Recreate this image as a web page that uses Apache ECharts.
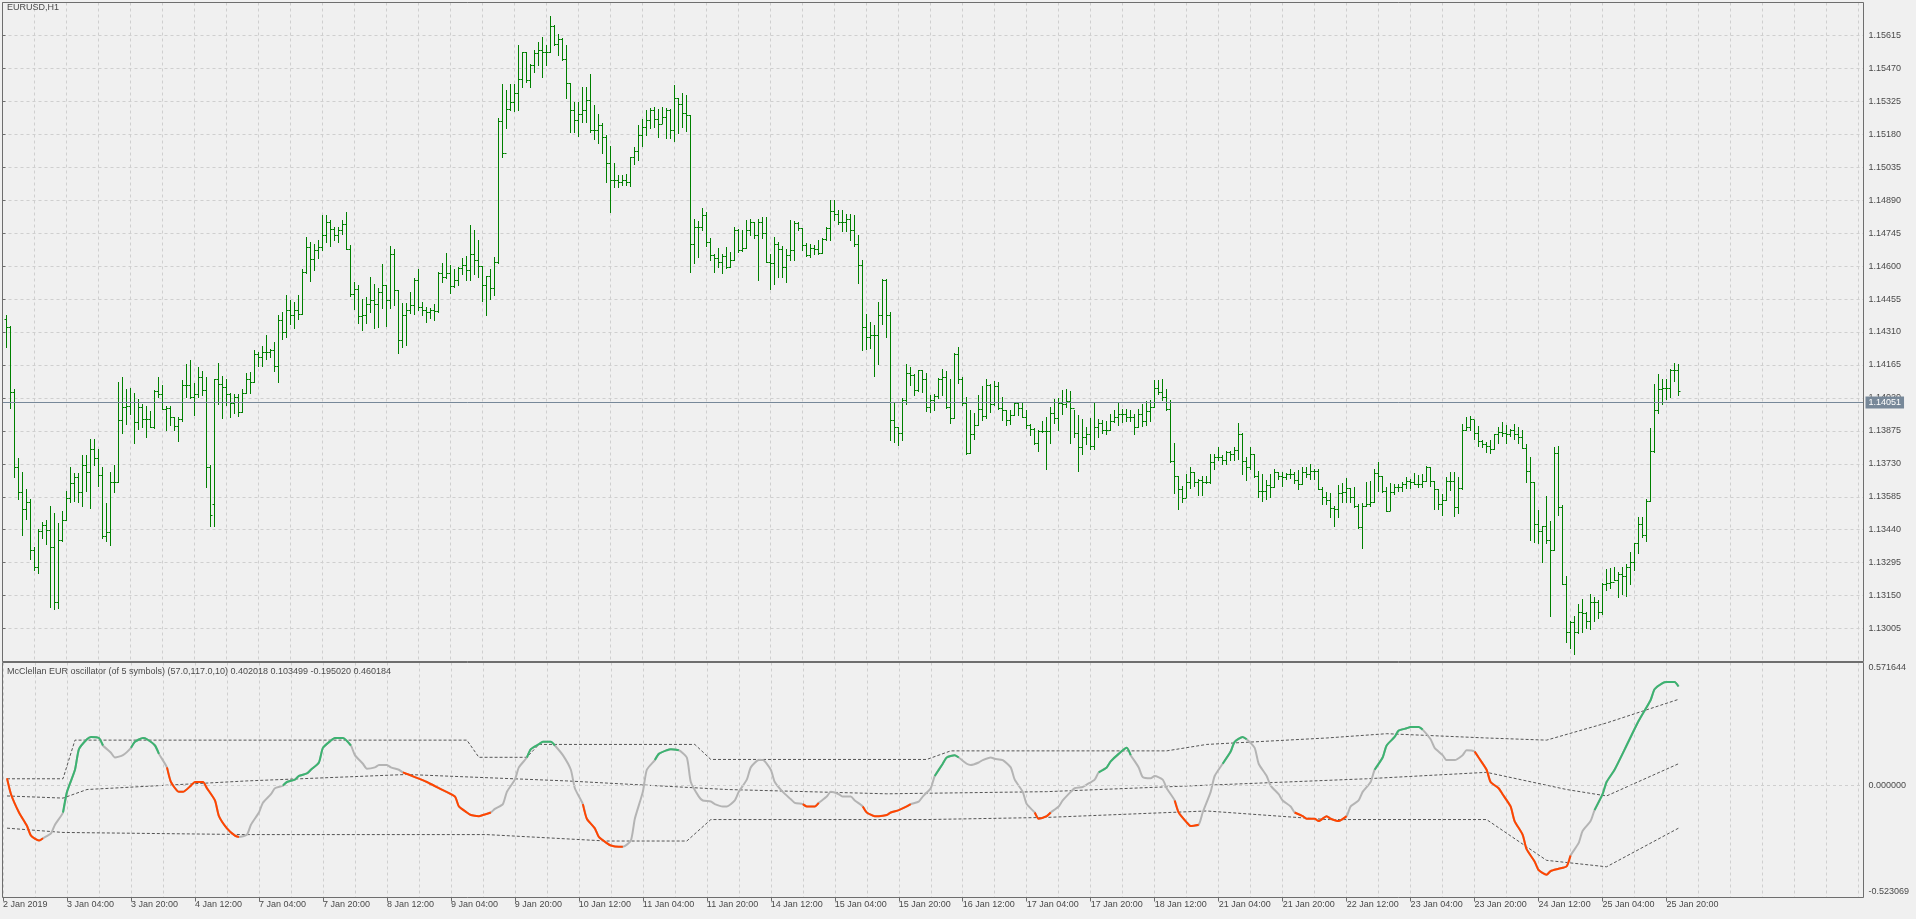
<!DOCTYPE html>
<html><head><meta charset="utf-8">
<script src="https://cdn.jsdelivr.net/npm/echarts@6/dist/echarts.min.js"></script>
<style>html,body{margin:0;padding:0;background:#f0f0f0;overflow:hidden}#c{width:1916px;height:919px}</style>
</head><body><div id="c"></div>
<script>
const SYMBOL_TITLE = 'EURUSD,H1';
const OSC_TITLE = 'McClellan EUR oscillator (of 5 symbols) (57.0,117.0,10) 0.402018 0.103499 -0.195020 0.460184';
const timeLabels = ['2 Jan 2019','3 Jan 04:00','3 Jan 20:00','4 Jan 12:00','7 Jan 04:00','7 Jan 20:00','8 Jan 12:00','9 Jan 04:00','9 Jan 20:00','10 Jan 12:00','11 Jan 04:00','11 Jan 20:00','14 Jan 12:00','15 Jan 04:00','15 Jan 20:00','16 Jan 12:00','17 Jan 04:00','17 Jan 20:00','18 Jan 12:00','21 Jan 04:00','21 Jan 20:00','22 Jan 12:00','23 Jan 04:00','23 Jan 20:00','24 Jan 12:00','25 Jan 04:00','25 Jan 20:00'];
const lastPrice = 1.14051;
const priceMin = 1.12860, priceMax = 1.15760, priceStep = 0.00145;
const oscMin = -0.523069, oscMax = 0.571644;

const opens = [
1.14368,1.14334,1.14045,1.13715,1.13604,1.13533,1.13564,1.13350,1.13278,1.13436,
1.13459,1.13439,1.13363,1.13124,1.13395,1.13483,1.13580,1.13645,1.13671,1.13605,
1.13723,1.13693,1.13796,1.13756,1.13681,1.13414,1.13432,1.13649,1.13652,1.13924,
1.13982,1.13983,1.14004,1.13912,1.13979,1.13928,1.13928,1.13894,1.14050,1.14038,
1.13972,1.13976,1.13938,1.13897,1.13925,1.14075,1.14077,1.14023,1.14038,1.14114,
1.14056,1.13715,1.13554,1.14101,1.14082,1.14067,1.14038,1.13998,1.14026,1.13956,
1.14041,1.14101,1.14089,1.14211,1.14199,1.14221,1.14221,1.14232,1.14160,1.14361,
1.14311,1.14408,1.14386,1.14405,1.14389,1.14573,1.14683,1.14631,1.14669,1.14686,
1.14738,1.14793,1.14764,1.14738,1.14757,1.14786,1.14676,1.14478,1.14500,1.14380,
1.14386,1.14435,1.14449,1.14434,1.14485,1.14518,1.14449,1.14654,1.14493,1.14273,
1.14383,1.14405,1.14430,1.14540,1.14422,1.14408,1.14400,1.14405,1.14402,1.14569,
1.14554,1.14570,1.14512,1.14540,1.14591,1.14603,1.14584,1.14654,1.14625,1.14600,
1.14518,1.14557,1.14503,1.14617,1.15238,1.15097,1.15290,1.15324,1.15361,1.15424,
1.15541,1.15417,1.15487,1.15537,1.15552,1.15541,1.15541,1.15655,1.15578,1.15600,
1.15512,1.15406,1.15285,1.15241,1.15270,1.15288,1.15332,1.15200,1.15200,1.15223,
1.15170,1.15054,1.14977,1.14977,1.14972,1.14977,1.14972,1.15079,1.15106,1.15175,
1.15214,1.15245,1.15289,1.15248,1.15226,1.15255,1.15289,1.15197,1.15340,1.15314,
1.15274,1.15263,1.14698,1.14771,1.14774,1.14823,1.14705,1.14647,1.14635,1.14617,
1.14644,1.14595,1.14625,1.14757,1.14669,1.14680,1.14757,1.14793,1.14738,1.14793,
1.14746,1.14617,1.14613,1.14698,1.14676,1.14595,1.14651,1.14669,1.14789,1.14767,
1.14695,1.14647,1.14680,1.14676,1.14658,1.14720,1.14767,1.14842,1.14830,1.14796,
1.14796,1.14808,1.14757,1.14698,1.14606,1.14334,1.14290,1.14295,1.14295,1.14383,
1.14541,1.14386,1.13923,1.13894,1.13866,1.14011,1.14130,1.14122,1.14055,1.14141,
1.14104,1.13982,1.14009,1.14028,1.14101,1.14114,1.13979,1.13932,1.14214,1.14101,
1.13998,1.13777,1.13862,1.13902,1.13969,1.13940,1.14075,1.13994,1.14072,1.13975,
1.13965,1.13923,1.13946,1.13997,1.13976,1.13938,1.13902,1.13884,1.13822,1.13874,
1.13874,1.13874,1.13954,1.13932,1.13997,1.13994,1.14006,1.13976,1.13866,1.13803,
1.13847,1.13862,1.13808,1.13891,1.13910,1.13879,1.13877,1.13920,1.13938,1.13950,
1.13947,1.13938,1.13938,1.13891,1.13950,1.13918,1.13962,1.13979,1.14064,1.14045,
1.14026,1.13972,1.13742,1.13676,1.13620,1.13579,1.13652,1.13693,1.13652,1.13659,
1.13649,1.13649,1.13740,1.13762,1.13762,1.13747,1.13781,1.13774,1.13791,1.13862,
1.13742,1.13715,1.13771,1.13678,1.13612,1.13612,1.13636,1.13630,1.13693,1.13678,
1.13674,1.13686,1.13686,1.13659,1.13642,1.13696,1.13683,1.13700,1.13700,1.13620,
1.13586,1.13571,1.13535,1.13532,1.13602,1.13605,1.13624,1.13583,1.13544,1.13451,
1.13546,1.13554,1.13564,1.13689,1.13676,1.13612,1.13524,1.13605,1.13630,1.13630,
1.13642,1.13654,1.13649,1.13642,1.13642,1.13656,1.13715,1.13654,1.13620,1.13554,
1.13571,1.13654,1.13654,1.13542,1.13624,1.13880,1.13894,1.13925,1.13866,1.13830,
1.13815,1.13808,1.13796,1.13859,1.13872,1.13865,1.13862,1.13877,1.13862,1.13847,
1.13800,1.13700,1.13648,1.13466,1.13434,1.13455,1.13395,1.13351,1.13777,1.13542,
1.13202,1.12989,1.13036,1.12989,1.13077,1.13073,1.13040,1.13121,1.13121,1.13077,
1.13202,1.13205,1.13209,1.13219,1.13243,1.13238,1.13275,1.13300,1.13381,1.13463,
1.13417,1.13568,1.13786,1.13967,1.14060,1.14064,1.14064,1.14141,1.14143];

const highs = [
1.14387,1.14337,1.14058,1.13755,1.13696,1.13621,1.13573,1.13363,1.13444,1.13476,
1.13481,1.13544,1.13513,1.13469,1.13524,1.13612,1.13715,1.13689,1.13690,1.13767,
1.13767,1.13838,1.13841,1.13796,1.13718,1.13557,1.13692,1.13723,1.14089,1.14111,
1.14057,1.14064,1.14041,1.14013,1.13994,1.13985,1.13962,1.14053,1.14114,1.14075,
1.13985,1.13985,1.13938,1.13938,1.14097,1.14170,1.14188,1.14085,1.14155,1.14139,
1.14111,1.13725,1.14104,1.14174,1.14116,1.14104,1.14041,1.14038,1.14038,1.14058,
1.14130,1.14136,1.14229,1.14221,1.14248,1.14298,1.14236,1.14268,1.14386,1.14400,
1.14475,1.14449,1.14443,1.14471,1.14588,1.14726,1.14708,1.14698,1.14713,1.14823,
1.14823,1.14801,1.14771,1.14774,1.14801,1.14840,1.14691,1.14532,1.14515,1.14455,
1.14463,1.14554,1.14522,1.14503,1.14610,1.14519,1.14689,1.14676,1.14496,1.14438,
1.14437,1.14484,1.14548,1.14588,1.14444,1.14422,1.14416,1.14434,1.14573,1.14614,
1.14658,1.14603,1.14588,1.14595,1.14636,1.14645,1.14782,1.14757,1.14713,1.14600,
1.14557,1.14587,1.14639,1.15252,1.15402,1.15373,1.15402,1.15402,1.15575,1.15541,
1.15544,1.15490,1.15549,1.15588,1.15610,1.15574,1.15700,1.15662,1.15622,1.15603,
1.15575,1.15406,1.15324,1.15321,1.15390,1.15390,1.15446,1.15307,1.15270,1.15229,
1.15179,1.15128,1.15054,1.14999,1.15003,1.15005,1.15079,1.15126,1.15223,1.15248,
1.15285,1.15296,1.15302,1.15292,1.15302,1.15295,1.15292,1.15399,1.15339,1.15361,
1.15355,1.15267,1.14808,1.14798,1.14856,1.14837,1.14724,1.14654,1.14680,1.14654,
1.14682,1.14661,1.14771,1.14764,1.14757,1.14801,1.14807,1.14793,1.14808,1.14815,
1.14815,1.14654,1.14730,1.14708,1.14688,1.14676,1.14804,1.14798,1.14796,1.14767,
1.14702,1.14698,1.14695,1.14713,1.14724,1.14771,1.14892,1.14892,1.14849,1.14848,
1.14830,1.14830,1.14826,1.14739,1.14629,1.14390,1.14356,1.14343,1.14440,1.14544,
1.14544,1.14400,1.14004,1.13894,1.14020,1.14171,1.14158,1.14126,1.14143,1.14141,
1.14129,1.14031,1.14038,1.14108,1.14148,1.14138,1.14105,1.14217,1.14246,1.14114,
1.14023,1.13965,1.13954,1.14031,1.14072,1.14105,1.14079,1.14094,1.14092,1.14026,
1.13965,1.13965,1.14001,1.13997,1.13997,1.13965,1.13906,1.13887,1.13877,1.13918,
1.13938,1.13982,1.14016,1.14020,1.14056,1.14057,1.14050,1.13965,1.13946,1.13925,
1.13891,1.13932,1.14001,1.13928,1.13923,1.13920,1.13947,1.13965,1.13997,1.13969,
1.13969,1.13967,1.13950,1.13972,1.13991,1.14006,1.14009,1.14097,1.14097,1.14101,
1.14060,1.14009,1.13822,1.13678,1.13634,1.13683,1.13718,1.13696,1.13664,1.13678,
1.13678,1.13771,1.13771,1.13803,1.13769,1.13786,1.13786,1.13803,1.13910,1.13865,
1.13762,1.13803,1.13774,1.13698,1.13686,1.13657,1.13683,1.13708,1.13696,1.13693,
1.13689,1.13708,1.13693,1.13703,1.13718,1.13715,1.13727,1.13708,1.13708,1.13627,
1.13608,1.13601,1.13546,1.13637,1.13645,1.13668,1.13624,1.13627,1.13554,1.13557,
1.13649,1.13654,1.13708,1.13740,1.13676,1.13630,1.13645,1.13642,1.13642,1.13649,
1.13674,1.13661,1.13689,1.13681,1.13686,1.13720,1.13715,1.13654,1.13620,1.13595,
1.13671,1.13693,1.13696,1.13674,1.13903,1.13935,1.13941,1.13923,1.13898,1.13833,
1.13825,1.13835,1.13862,1.13894,1.13912,1.13901,1.13881,1.13903,1.13891,1.13877,
1.13815,1.13762,1.13648,1.13527,1.13458,1.13590,1.13480,1.13803,1.13808,1.13549,
1.13238,1.13037,1.13062,1.13114,1.13136,1.13077,1.13155,1.13146,1.13131,1.13206,
1.13268,1.13272,1.13278,1.13256,1.13278,1.13287,1.13344,1.13381,1.13495,1.13498,
1.13576,1.13888,1.14079,1.14126,1.14104,1.14101,1.14148,1.14174,1.14170];

const lows = [
1.14243,1.13976,1.13671,1.13576,1.13417,1.13488,1.13310,1.13263,1.13249,1.13403,
1.13378,1.13099,1.13090,1.13095,1.13390,1.13483,1.13561,1.13568,1.13564,1.13544,
1.13612,1.13536,1.13723,1.13632,1.13403,1.13390,1.13373,1.13608,1.13652,1.13865,
1.13906,1.13950,1.13821,1.13884,1.13891,1.13847,1.13891,1.13887,1.14023,1.13972,
1.13877,1.13899,1.13880,1.13830,1.13920,1.14023,1.14020,1.13943,1.14023,1.14034,
1.13630,1.13456,1.13456,1.13994,1.13931,1.13987,1.13935,1.13954,1.13940,1.13956,
1.14041,1.14041,1.14089,1.14160,1.14160,1.14192,1.14199,1.14138,1.14092,1.14278,
1.14287,1.14346,1.14327,1.14368,1.14390,1.14570,1.14534,1.14581,1.14636,1.14669,
1.14705,1.14688,1.14716,1.14705,1.14742,1.14676,1.14468,1.14412,1.14349,1.14320,
1.14349,1.14397,1.14327,1.14331,1.14415,1.14336,1.14415,1.14427,1.14218,1.14243,
1.14254,1.14393,1.14390,1.14405,1.14386,1.14353,1.14371,1.14361,1.14397,1.14532,
1.14547,1.14481,1.14510,1.14515,1.14566,1.14540,1.14537,1.14566,1.14551,1.14446,
1.14384,1.14454,1.14471,1.14614,1.15079,1.15208,1.15285,1.15282,1.15289,1.15390,
1.15412,1.15387,1.15456,1.15483,1.15431,1.15486,1.15541,1.15571,1.15527,1.15505,
1.15339,1.15189,1.15189,1.15172,1.15233,1.15236,1.15189,1.15160,1.15141,1.15097,
1.14969,1.14837,1.14950,1.14947,1.14958,1.14959,1.14952,1.15050,1.15068,1.15128,
1.15179,1.15207,1.15214,1.15167,1.15229,1.15163,1.15163,1.15150,1.15186,1.15214,
1.15194,1.14573,1.14613,1.14639,1.14760,1.14688,1.14628,1.14576,1.14595,1.14569,
1.14592,1.14595,1.14625,1.14661,1.14666,1.14680,1.14739,1.14724,1.14540,1.14724,
1.14617,1.14500,1.14522,1.14551,1.14554,1.14529,1.14628,1.14628,1.14757,1.14672,
1.14644,1.14639,1.14654,1.14654,1.14657,1.14713,1.14717,1.14805,1.14786,1.14754,
1.14754,1.14716,1.14688,1.14525,1.14232,1.14236,1.14239,1.14116,1.14170,1.14346,
1.14287,1.13835,1.13825,1.13813,1.13835,1.13994,1.14078,1.14034,1.14050,1.14045,
1.13962,1.13957,1.13965,1.14020,1.14031,1.13976,1.13910,1.13932,1.14085,1.13990,
1.13774,1.13777,1.13837,1.13900,1.13923,1.13932,1.13957,1.13990,1.13969,1.13921,
1.13899,1.13903,1.13946,1.13943,1.13935,1.13888,1.13855,1.13818,1.13786,1.13869,
1.13708,1.13821,1.13909,1.13880,1.13950,1.13982,1.13821,1.13847,1.13698,1.13771,
1.13818,1.13796,1.13796,1.13847,1.13866,1.13859,1.13877,1.13913,1.13899,1.13913,
1.13918,1.13920,1.13862,1.13891,1.13896,1.13899,1.13920,1.13979,1.14035,1.14011,
1.13965,1.13737,1.13601,1.13529,1.13561,1.13583,1.13624,1.13634,1.13591,1.13591,
1.13645,1.13646,1.13705,1.13745,1.13730,1.13730,1.13745,1.13748,1.13752,1.13686,
1.13659,1.13708,1.13671,1.13586,1.13565,1.13577,1.13586,1.13630,1.13664,1.13634,
1.13664,1.13668,1.13646,1.13617,1.13640,1.13674,1.13661,1.13661,1.13620,1.13554,
1.13551,1.13495,1.13456,1.13495,1.13561,1.13561,1.13561,1.13542,1.13448,1.13360,
1.13546,1.13546,1.13560,1.13610,1.13605,1.13522,1.13527,1.13595,1.13610,1.13610,
1.13624,1.13624,1.13639,1.13630,1.13630,1.13654,1.13634,1.13529,1.13529,1.13505,
1.13571,1.13615,1.13502,1.13513,1.13620,1.13877,1.13877,1.13840,1.13810,1.13803,
1.13781,1.13777,1.13795,1.13822,1.13852,1.13822,1.13852,1.13837,1.13822,1.13800,
1.13649,1.13395,1.13385,1.13381,1.13297,1.13381,1.13059,1.13351,1.13505,1.13202,
1.12945,1.12919,1.12891,1.12985,1.12989,1.13007,1.13004,1.13040,1.13051,1.13070,
1.13175,1.13184,1.13217,1.13143,1.13158,1.13150,1.13202,1.13263,1.13337,1.13407,
1.13390,1.13565,1.13781,1.13953,1.13991,1.14014,1.14026,1.14096,1.14031];

const closes = [
1.14334,1.14045,1.13715,1.13604,1.13533,1.13564,1.13350,1.13278,1.13436,1.13459,
1.13439,1.13363,1.13124,1.13395,1.13483,1.13580,1.13645,1.13671,1.13605,1.13723,
1.13693,1.13796,1.13756,1.13681,1.13414,1.13432,1.13649,1.13652,1.13924,1.13982,
1.13983,1.14004,1.13912,1.13979,1.13928,1.13928,1.13894,1.14050,1.14038,1.13972,
1.13976,1.13938,1.13897,1.13925,1.14075,1.14077,1.14023,1.14038,1.14114,1.14056,
1.13715,1.13503,1.14101,1.14082,1.14067,1.14038,1.13998,1.14026,1.13956,1.14041,
1.14101,1.14089,1.14211,1.14199,1.14221,1.14221,1.14232,1.14160,1.14361,1.14311,
1.14408,1.14386,1.14405,1.14389,1.14573,1.14683,1.14631,1.14669,1.14686,1.14738,
1.14793,1.14764,1.14738,1.14757,1.14786,1.14676,1.14478,1.14500,1.14380,1.14386,
1.14435,1.14449,1.14434,1.14485,1.14518,1.14449,1.14654,1.14493,1.14273,1.14383,
1.14405,1.14430,1.14540,1.14422,1.14408,1.14400,1.14405,1.14402,1.14569,1.14554,
1.14570,1.14512,1.14540,1.14591,1.14603,1.14584,1.14654,1.14625,1.14600,1.14518,
1.14557,1.14503,1.14617,1.15238,1.15097,1.15290,1.15324,1.15361,1.15424,1.15541,
1.15417,1.15487,1.15537,1.15552,1.15541,1.15541,1.15655,1.15578,1.15600,1.15512,
1.15406,1.15285,1.15241,1.15270,1.15288,1.15332,1.15200,1.15200,1.15223,1.15170,
1.15054,1.14977,1.14977,1.14972,1.14977,1.14972,1.15079,1.15106,1.15175,1.15214,
1.15245,1.15289,1.15248,1.15226,1.15255,1.15289,1.15197,1.15340,1.15314,1.15274,
1.15263,1.14698,1.14771,1.14774,1.14823,1.14705,1.14647,1.14635,1.14617,1.14644,
1.14595,1.14625,1.14757,1.14669,1.14680,1.14757,1.14793,1.14738,1.14793,1.14746,
1.14617,1.14613,1.14698,1.14676,1.14595,1.14651,1.14669,1.14789,1.14767,1.14695,
1.14647,1.14680,1.14676,1.14658,1.14720,1.14767,1.14842,1.14830,1.14796,1.14796,
1.14808,1.14757,1.14698,1.14606,1.14334,1.14290,1.14295,1.14295,1.14383,1.14541,
1.14386,1.13923,1.13894,1.13866,1.14011,1.14130,1.14122,1.14055,1.14141,1.14104,
1.13982,1.14009,1.14028,1.14101,1.14114,1.13979,1.13932,1.14214,1.14101,1.13998,
1.13777,1.13862,1.13902,1.13969,1.13940,1.14075,1.13994,1.14072,1.13975,1.13965,
1.13923,1.13946,1.13997,1.13976,1.13938,1.13902,1.13884,1.13822,1.13874,1.13874,
1.13874,1.13954,1.13932,1.13997,1.13994,1.14006,1.13976,1.13866,1.13803,1.13847,
1.13862,1.13808,1.13891,1.13910,1.13879,1.13877,1.13920,1.13938,1.13950,1.13947,
1.13938,1.13938,1.13891,1.13950,1.13918,1.13962,1.13979,1.14064,1.14045,1.14026,
1.13972,1.13742,1.13676,1.13620,1.13579,1.13652,1.13693,1.13652,1.13659,1.13649,
1.13649,1.13740,1.13762,1.13762,1.13747,1.13781,1.13774,1.13791,1.13862,1.13742,
1.13715,1.13771,1.13678,1.13612,1.13612,1.13636,1.13630,1.13693,1.13678,1.13674,
1.13686,1.13686,1.13659,1.13642,1.13696,1.13683,1.13700,1.13700,1.13620,1.13586,
1.13571,1.13535,1.13532,1.13602,1.13605,1.13624,1.13583,1.13544,1.13451,1.13546,
1.13554,1.13564,1.13689,1.13676,1.13612,1.13524,1.13605,1.13630,1.13630,1.13642,
1.13654,1.13649,1.13642,1.13642,1.13656,1.13715,1.13654,1.13620,1.13554,1.13571,
1.13654,1.13654,1.13542,1.13624,1.13880,1.13894,1.13925,1.13866,1.13830,1.13815,
1.13808,1.13796,1.13859,1.13872,1.13865,1.13862,1.13877,1.13862,1.13847,1.13800,
1.13700,1.13648,1.13466,1.13434,1.13455,1.13395,1.13351,1.13777,1.13542,1.13202,
1.12989,1.13036,1.12989,1.13077,1.13073,1.13040,1.13121,1.13121,1.13077,1.13202,
1.13205,1.13209,1.13219,1.13243,1.13238,1.13275,1.13300,1.13381,1.13463,1.13417,
1.13568,1.13786,1.13967,1.14060,1.14064,1.14064,1.14141,1.14143,1.14051];

// oscillator main line: [bar index, value]
const oscMain = [[0,0.032],[1,-0.042],[3,-0.127],[5,-0.190],[6,-0.235],[8,-0.258],[9,-0.247],[11,-0.224],[12,-0.184],[14,-0.127],[15,-0.031],[17,0.072],[18,0.168],[20,0.214],[21,0.225],[23,0.220],[24,0.185],[26,0.151],[27,0.129],[29,0.140],[31,0.174],[32,0.202],[34,0.220],[35,0.214],[37,0.185],[38,0.146],[40,0.083],[41,0.015],[43,-0.031],[44,-0.031],[46,-0.002],[47,0.015],[49,0.015],[50,-0.014],[52,-0.071],[53,-0.144],[55,-0.201],[57,-0.235],[58,-0.241],[60,-0.230],[61,-0.184],[63,-0.127],[64,-0.082],[66,-0.042],[67,-0.014],[69,-0.002],[70,0.015],[72,0.026],[73,0.043],[75,0.055],[76,0.072],[78,0.106],[79,0.174],[81,0.208],[82,0.220],[84,0.220],[86,0.185],[87,0.140],[89,0.100],[90,0.077],[92,0.083],[93,0.094],[95,0.094],[96,0.083],[98,0.072],[99,0.060],[102,0.038],[105,0.015],[108,-0.014],[112,-0.053],[113,-0.099],[115,-0.127],[116,-0.139],[118,-0.144],[119,-0.139],[121,-0.127],[122,-0.110],[124,-0.088],[125,-0.031],[127,0.026],[128,0.083],[130,0.129],[131,0.168],[133,0.191],[134,0.202],[136,0.202],[137,0.185],[139,0.140],[141,0.072],[142,-0.014],[144,-0.088],[145,-0.156],[147,-0.201],[148,-0.241],[150,-0.270],[151,-0.281],[153,-0.287],[154,-0.287],[156,-0.258],[157,-0.156],[159,-0.031],[160,0.072],[162,0.117],[163,0.146],[165,0.163],[166,0.168],[168,0.163],[170,0.129],[171,0.015],[173,-0.053],[174,-0.071],[176,-0.076],[177,-0.088],[179,-0.099],[180,-0.099],[182,-0.071],[183,-0.031],[185,0.026],[186,0.083],[188,0.117],[189,0.117],[191,0.072],[192,0.015],[194,-0.031],[196,-0.065],[197,-0.082],[199,-0.088],[200,-0.099],[202,-0.099],[203,-0.082],[205,-0.053],[206,-0.031],[208,-0.042],[209,-0.053],[211,-0.053],[212,-0.071],[214,-0.099],[215,-0.127],[217,-0.144],[218,-0.144],[220,-0.139],[221,-0.127],[223,-0.116],[225,-0.099],[226,-0.088],[228,-0.076],[229,-0.053],[231,-0.014],[232,0.043],[234,0.100],[235,0.129],[237,0.140],[238,0.129],[240,0.100],[241,0.094],[243,0.106],[244,0.117],[246,0.129],[247,0.123],[249,0.117],[251,0.083],[252,0.026],[254,-0.031],[255,-0.088],[257,-0.127],[258,-0.156],[260,-0.144],[261,-0.127],[263,-0.099],[264,-0.071],[266,-0.031],[267,-0.014],[269,-0.008],[270,0.003],[272,0.026],[273,0.060],[275,0.083],[276,0.111],[278,0.146],[280,0.174],[281,0.140],[283,0.083],[284,0.038],[286,0.032],[287,0.043],[289,0.026],[290,-0.014],[292,-0.071],[293,-0.127],[295,-0.173],[296,-0.190],[298,-0.184],[299,-0.127],[301,-0.031],[302,0.043],[304,0.100],[306,0.157],[307,0.202],[309,0.225],[310,0.214],[312,0.174],[313,0.100],[315,0.043],[316,-0.002],[318,-0.042],[319,-0.071],[321,-0.099],[322,-0.127],[324,-0.144],[325,-0.156],[327,-0.156],[328,-0.167],[330,-0.144],[331,-0.156],[333,-0.167],[335,-0.144],[336,-0.099],[338,-0.071],[339,-0.031],[341,0.015],[342,0.072],[344,0.129],[345,0.185],[347,0.225],[348,0.254],[350,0.265],[351,0.271],[353,0.271],[354,0.259],[356,0.214],[357,0.174],[359,0.140],[360,0.117],[362,0.117],[364,0.140],[365,0.163],[367,0.157],[368,0.129],[370,0.072],[371,0.015],[373,-0.014],[374,-0.042],[376,-0.099],[377,-0.167],[379,-0.230],[380,-0.298],[382,-0.355],[383,-0.395],[385,-0.417],[386,-0.400],[388,-0.389],[390,-0.378],[391,-0.327],[393,-0.270],[394,-0.213],[396,-0.167],[397,-0.116],[399,-0.042],[400,0.015],[402,0.072],[405,0.185],[408,0.299],[411,0.396],[412,0.447],[414,0.476],[415,0.481],[417,0.481],[418,0.460]];
// bar ranges where the main line is drawn green (rising) / orange-red (falling)
const greenRanges = [[14,25],[31,38],[68,86],[129,138],[162,169],[232,239],[273,281],[304,311],[342,355],[397,418]];
const redRanges = [[0,9],[39,58],[99,121],[144,155],[199,203],[214,226],[256,261],[291,298],[322,335],[367,391]];
const bandUpper = [[0,0.03],[14,0.03],[17,0.21],[70,0.21],[115,0.21],[118,0.13],[130,0.13],[133,0.19],[172,0.19],[176,0.12],[230,0.12],[236,0.16],[290,0.16],[300,0.19],[330,0.22],[345,0.24],[370,0.22],[385,0.21],[400,0.29],[418,0.40]];
const bandMid = [[0,-0.05],[14,-0.06],[20,-0.02],[60,0.02],[100,0.05],[140,0.02],[180,-0.02],[220,-0.04],[260,-0.03],[300,0.0],[340,0.03],[370,0.06],[390,-0.02],[400,-0.05],[418,0.10]];
const bandLower = [[0,-0.20],[14,-0.22],[60,-0.23],[120,-0.23],[150,-0.26],[170,-0.26],[176,-0.16],[230,-0.16],[260,-0.15],[300,-0.12],[330,-0.16],[370,-0.16],[385,-0.35],[400,-0.38],[418,-0.20]];

// ---------- chart ----------
const XMAX = 465.25;           // slots across the window (bar index + 1)
const FONT = '"Liberation Sans", Arial, sans-serif';
const TXT = '#4a4a4a', FRAME = '#6e6e6e', GRIDC = '#cfcfcf';
const toX = p => [p[0] + 1, p[1]];
const tickPos = timeLabels.map((_, k) => k * 16);

const chart = echarts.init(document.getElementById('c'), null, {renderer: 'canvas', width: 1916, height: 919});
const dash = {color: GRIDC, type: [3, 3], width: 1};
const hiddenX = (g) => ({gridIndex: g, type: 'value', min: 0, max: XMAX, interval: 8,
  axisLine: {show: false}, axisTick: {show: false}, axisLabel: {show: false},
  splitLine: {show: true, lineStyle: dash}});

const series = [];
series.push({
  type: 'custom', xAxisIndex: 0, yAxisIndex: 0, z: 3, clip: true,
  data: closes.map((c, i) => [i + 1, opens[i], highs[i], lows[i], c]),
  encode: {x: 0, y: [1, 2, 3, 4]},
  renderItem: (params, api) => {
    const x = api.value(0);
    const pH = api.coord([x, api.value(2)]), pL = api.coord([x, api.value(3)]);
    const pO = api.coord([x, api.value(1)]), pC = api.coord([x, api.value(4)]);
    const cx = Math.floor(pH[0]) + 0.5;
    const st = {stroke: '#008000', lineWidth: 1};
    const yo = Math.round(pO[1]) + 0.5, yc = Math.round(pC[1]) + 0.5;
    return {type: 'group', children: [
      {type: 'line', shape: {x1: cx, y1: Math.round(pH[1]), x2: cx, y2: Math.round(pL[1]) + 1}, style: st},
      {type: 'line', shape: {x1: cx - 2, y1: yo, x2: cx, y2: yo}, style: st},
      {type: 'line', shape: {x1: cx, y1: yc, x2: cx + 2, y2: yc}, style: st}
    ]};
  },
  markLine: {
    silent: true, symbol: 'none', animation: false,
    lineStyle: {color: '#778899', type: 'solid', width: 1},
    label: {show: true, position: 'end', distance: 2, formatter: lastPrice.toFixed(5),
      backgroundColor: '#778899', color: '#ffffff', padding: [2, 3, 1, 3],
      fontSize: 9, fontFamily: FONT},
    data: [{yAxis: lastPrice}]
  }
});
const oscLine = (data, color, width, type, z, sm) => ({
  type: 'line', xAxisIndex: 1, yAxisIndex: 1, data: data.map(toX), symbol: 'none',
  smooth: sm, z: z, silent: true,
  lineStyle: {color: color, width: width, type: type}
});
const lowerS = oscLine(bandLower, '#555555', 1, [3, 2], 2, false);
lowerS.markLine = {silent: true, symbol: 'none', animation: false, label: {show: false},
  lineStyle: {color: GRIDC, type: [3, 3], width: 1}, data: [{yAxis: 0}]};
series.push(lowerS);
series.push(oscLine(bandMid, '#555555', 1, [3, 2], 2, false));
series.push(oscLine(bandUpper, '#555555', 1, [3, 2], 2, false));
series.push(oscLine(oscMain, '#b4b4b4', 2, 'solid', 4, 0.2));
const pick = r => oscMain.filter(p => p[0] >= r[0] && p[0] <= r[1]);
greenRanges.forEach(r => series.push(oscLine(pick(r), '#3cb371', 2, 'solid', 5, 0.2)));
redRanges.forEach(r => series.push(oscLine(pick(r), '#ff4500', 2, 'solid', 5, 0.2)));

const near = (a, b) => Math.abs(a - b) < 1e-7;
const frame = (y, h) => ({type: 'rect', silent: true, z: 100,
  shape: {x: 2.5, y: y, width: 1861, height: h}, style: {fill: 'none', stroke: FRAME, lineWidth: 1}});
const option = {
  animation: false,
  backgroundColor: '#f0f0f0',
  textStyle: {fontFamily: FONT},
  grid: [
    {left: 2.5, top: 2.5, width: 1861, height: 659, show: false, containLabel: false},
    {left: 2.5, top: 662.5, width: 1861, height: 235, show: false, containLabel: false}
  ],
  xAxis: [
    hiddenX(0), hiddenX(1),
    {gridIndex: 1, type: 'value', min: 0, max: XMAX, position: 'bottom',
      axisLine: {show: false}, splitLine: {show: false},
      axisTick: {show: true, customValues: tickPos, length: 4, lineStyle: {color: FRAME}},
      axisLabel: {show: true, customValues: tickPos, align: 'left', margin: 3, fontSize: 9, color: TXT, fontFamily: FONT,
        formatter: v => timeLabels[Math.round(v / 16)] || ''}}
  ],
  yAxis: [
    {gridIndex: 0, type: 'value', position: 'right', min: priceMin, max: priceMax, interval: priceStep,
      axisLine: {show: false},
      axisTick: {show: true, length: 3, lineStyle: {color: FRAME}},
      axisLabel: {show: true, margin: 5, fontSize: 9, color: TXT, fontFamily: FONT, align: 'left',
        formatter: v => (near(v, priceMin) || near(v, priceMax)) ? '' : v.toFixed(5)},
      splitLine: {show: true, lineStyle: dash}},
    {gridIndex: 1, type: 'value', position: 'right', min: oscMin, max: oscMax,
      axisLine: {show: false}, splitLine: {show: false},
      axisTick: {show: true, customValues: [oscMin, oscMax], length: 3, lineStyle: {color: FRAME}},
      axisLabel: {show: true, customValues: [oscMax, 0, oscMin], margin: 5, fontSize: 9, color: TXT, fontFamily: FONT, align: 'left',
        formatter: v => near(v, oscMax) ? '{t|' + oscMax.toFixed(6) + '}' : near(v, oscMin) ? '{b|' + oscMin.toFixed(6) + '}' : (0).toFixed(6),
        rich: {t: {padding: [10, 0, 0, 0], fontSize: 9, color: TXT, fontFamily: FONT},
               b: {padding: [0, 0, 11, 0], fontSize: 9, color: TXT, fontFamily: FONT}}}}
  ],
  graphic: [
    frame(2.5, 659), frame(662.5, 235),
    {type: 'text', left: 7, top: 3, z: 10, style: {text: SYMBOL_TITLE, font: '9px "Liberation Sans", Arial, sans-serif', fill: TXT}},
    {type: 'text', left: 7, top: 667, z: 10, style: {text: OSC_TITLE, font: '9px "Liberation Sans", Arial, sans-serif', fill: TXT}}
  ],
  series: series
};
chart.setOption(option);
</script>
</body></html>
